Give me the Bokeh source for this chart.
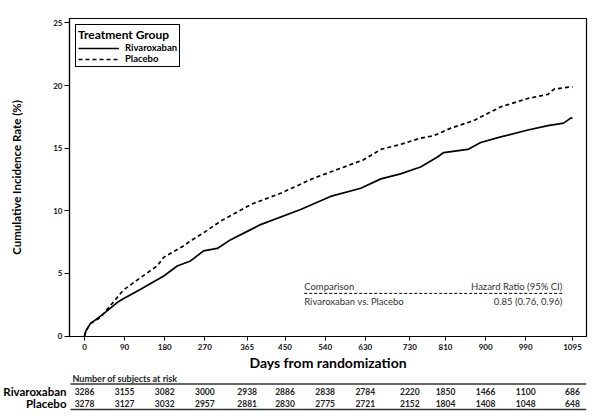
from bokeh.core.properties import value
from bokeh.embed import file_html
from bokeh.layouts import column
from bokeh.models import FixedTicker, Label, Legend, LegendItem, Range1d
from bokeh.plotting import figure
from bokeh.resources import INLINE

# courbes de Kaplan-Meier (jours, %)
days_riva = [0, 3, 13, 36, 74, 88, 126, 163, 178, 208, 238, 267, 298, 328, 373, 395,
             485, 552, 620, 665, 709, 754, 792, 806, 860, 889, 934, 995, 1040, 1075, 1091, 1095]
cum_riva = [0, 0.4, 1.0, 1.6, 2.7, 3.0, 3.74, 4.5, 4.8, 5.6, 6.0, 6.8, 7.0, 7.7, 8.5, 8.9,
            10.1, 11.15, 11.8, 12.55, 12.95, 13.5, 14.3, 14.65, 14.9, 15.45, 15.9, 16.45, 16.8, 17.0, 17.4, 17.4]

days_plac = [0, 3, 13, 36, 88, 133, 163, 178, 222, 238, 267, 305, 373, 380, 440, 514,
             575, 626, 665, 709, 754, 784, 822, 873, 934, 995, 1040, 1053, 1091, 1095]
cum_plac = [0, 0.4, 1.0, 1.5, 3.7, 4.85, 5.6, 6.3, 7.2, 7.6, 8.24, 9.17, 10.5, 10.6, 11.4, 12.6,
            13.4, 14.07, 14.9, 15.3, 15.8, 16.0, 16.6, 17.2, 18.3, 18.97, 19.3, 19.7, 19.9, 19.9]

tick_days = [0, 90, 180, 270, 365, 450, 540, 630, 730, 810, 900, 990, 1095]
y_ticks = [0, 5, 10, 15, 20, 25]

groups = ["Rivaroxaban", "Placebo"]
risk_riva = [3286, 3155, 3082, 3000, 2938, 2886, 2838, 2784, 2220, 1850, 1466, 1100, 686]
risk_plac = [3278, 3127, 3032, 2957, 2881, 2830, 2775, 2721, 2152, 1804, 1408, 1048, 648]

FONT = "Lato"
W = 596
LEFT, RIGHT, TOP = 69, 10, 18
FW, FH = W - LEFT - RIGHT, 318
ppd = 488 / 1095                      # pixels par jour
x_start = -15 / ppd
x_end = x_start + FW / ppd

p = figure(frame_width=FW, frame_height=FH, x_range=(x_start, x_end), y_range=(-0.03, 25.35),
           output_backend="svg", toolbar_location=None,
           min_border_left=LEFT, min_border_right=RIGHT, min_border_top=TOP, min_border_bottom=20,
           x_axis_label="Days from randomization", y_axis_label="Cumulative Incidence Rate (%)")
p.grid.visible = False
p.outline_line_color = "black"
p.outline_line_alpha = 1
p.outline_line_width = 1.2

p.xaxis.ticker = FixedTicker(ticks=tick_days)
p.yaxis.ticker = FixedTicker(ticks=y_ticks)
for ax in (p.xaxis, p.yaxis):
    ax.minor_tick_line_color = None
    ax.major_tick_in = 0
    ax.major_label_text_font = FONT
    ax.major_label_text_font_style = "bold"
    ax.major_label_text_font_size = "8px"
    ax.major_label_text_color = "#111111"
    ax.axis_label_text_font = FONT
    ax.axis_label_text_font_style = "bold"
    ax.axis_label_text_color = "black"
    ax.axis_line_color = "black"
    ax.axis_line_width = 1.2
    ax.major_tick_line_color = "black"
p.xaxis.major_tick_out = 4
p.xaxis.major_label_standoff = 3
p.yaxis.major_tick_out = 5
p.yaxis.major_label_standoff = 2
p.xaxis.axis_label_text_font_size = "14px"
p.yaxis.axis_label_text_font_size = "11.5px"
p.xaxis.axis_label_standoff = 1
p.yaxis.axis_label_standoff = 27

r1 = p.line(days_riva, cum_riva, line_color="black", line_width=1.7)
r2 = p.line(days_plac, cum_plac, line_color="black", line_width=1.7, line_dash="4 3")

legend = Legend(items=[LegendItem(label=groups[0], renderers=[r1]),
                       LegendItem(label=groups[1], renderers=[r2])],
                location="top_left", title="Treatment Group")
legend.margin = 6
legend.padding = 2
legend.spacing = 0
legend.glyph_width = 41
legend.glyph_height = 8
legend.label_height = 8
legend.label_standoff = 6
legend.title_standoff = 0
legend.title_text_font = FONT
legend.title_text_font_style = "bold"
legend.title_text_font_size = "12px"
legend.title_text_color = "black"
legend.label_text_font = FONT
legend.label_text_font_style = "bold"
legend.label_text_font_size = "9.5px"
legend.label_text_color = "black"
legend.border_line_color = "black"
legend.border_line_alpha = 1
legend.border_line_width = 1.2
p.add_layout(legend)

# encadré du hazard ratio
hr_left, hr_right = 493, 1072
for txt, x, y, align in [("Comparison", hr_left, 3.97, "left"),
                         ("Hazard Ratio (95% CI)", hr_right, 3.97, "right"),
                         ("Rivaroxaban  vs. Placebo", hr_left, 2.79, "left"),
                         ("0.85 (0.76, 0.96)", hr_right, 2.79, "right")]:
    p.add_layout(Label(x=x, y=y, text=txt, text_align=align, text_baseline="middle",
                       text_font=FONT, text_font_size="9.5px", text_color="#333333"))
p.line([hr_left, hr_right], [3.41, 3.41], line_color="black", line_width=1, line_dash="3 2")

# tableau des sujets à risque, même échelle des jours que le graphique
TH = 48
row_y = [18, 30]
t = figure(frame_width=FW, frame_height=TH, x_range=p.x_range, y_range=Range1d(TH, 0),
           output_backend="svg", toolbar_location=None, x_axis_location=None,
           min_border_left=LEFT, min_border_right=RIGHT, min_border_top=0, min_border_bottom=0)
t.grid.visible = False
t.outline_line_color = None
# noms des groupes portés par l'axe vertical
t.yaxis.ticker = FixedTicker(ticks=row_y)
t.yaxis.major_label_overrides = {row_y[0]: groups[0], row_y[1]: groups[1]}
t.yaxis.axis_line_color = None
t.yaxis.major_tick_line_color = None
t.yaxis.minor_tick_line_color = None
t.yaxis.major_tick_out = 0
t.yaxis.major_label_standoff = 3
t.yaxis.major_label_text_font = FONT
t.yaxis.major_label_text_font_style = "bold"
t.yaxis.major_label_text_font_size = "11.5px"
t.yaxis.major_label_text_color = "black"

t.text([x_start + 3 / ppd], [4.5], text=["Number of subjects at risk"], text_font=value(FONT),
       text_font_style="bold", text_font_size="9px", text_baseline="middle", text_color="#222222")
t.segment(x0=[x_start + 1 / ppd] * 2, x1=[x_end] * 2, y0=[10.5, 36], y1=[10.5, 36],
          line_color="#333333", line_width=1.4)
for y, vals in zip(row_y, [risk_riva, risk_plac]):
    t.text(tick_days, [y] * len(vals), text=[str(v) for v in vals], text_font=value(FONT),
           text_font_style="bold", text_font_size="8.5px", text_align="center",
           text_baseline="middle", text_color="#222222")

layout = column(p, t, spacing=0)
open("out.html", "w").write(file_html(layout, INLINE))
